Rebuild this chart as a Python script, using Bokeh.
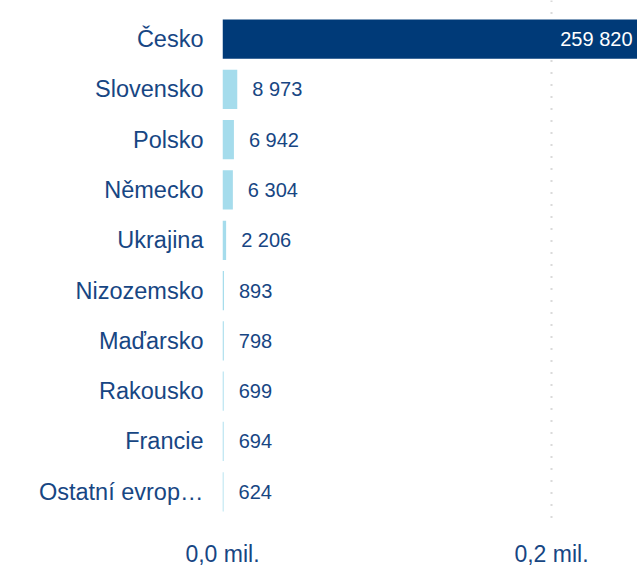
from bokeh.plotting import figure
from bokeh.models import Range1d, FixedTicker, ColumnDataSource
from bokeh.core.properties import value
from bokeh.embed import file_html
from bokeh.resources import INLINE

# ---- data ----
countries = ["Česko", "Slovensko", "Polsko", "Německo", "Ukrajina",
             "Nizozemsko", "Maďarsko", "Rakousko", "Francie", "Ostatní evrop…"]
visitors = [259820, 8973, 6942, 6304, 2206, 893, 798, 699, 694, 624]
tick_values = [0, 200000]
tick_labels = ["0,0 mil.", "0,2 mil."]

FONT = "Liberation Sans"
TEXT_COLOR = "#174683"
DARK = "#003a78"
LIGHT = "#a5dcec"

x_end = 252300
idx = list(range(len(countries)))

p = figure(width=637, height=569, output_backend="svg", toolbar_location=None,
           x_range=Range1d(0, x_end), y_range=Range1d(9.73, -0.767),
           min_border_left=222, min_border_right=0, min_border_top=0, min_border_bottom=0)
p.outline_line_color = None
p.background_fill_color = "white"
p.border_fill_color = "white"

colors = [DARK if i == 0 else LIGHT for i in idx]
src = ColumnDataSource(dict(y=idx, v=visitors, c=colors,
                            lab=[f"{v:,}".replace(",", " ") for v in visitors]))
p.hbar(y="y", left=0, right="v", height=0.78, fill_color="c", line_color=None, source=src)

inside = [i for i in idx if visitors[i] > 0.5 * x_end]
outside = [i for i in idx if i not in inside]
in_src = ColumnDataSource(dict(x=[min(visitors[i], x_end) for i in inside],
                               y=[i for i in inside],
                               t=[src.data["lab"][i] for i in inside]))
out_src = ColumnDataSource(dict(x=[visitors[i] for i in outside],
                                y=[i for i in outside],
                                t=[src.data["lab"][i] for i in outside]))
p.text(x="x", y="y", text="t", source=in_src, text_align="right", text_baseline="middle",
       x_offset=-5, text_color="white", text_font=value(FONT), text_font_size="20px")
p.text(x="x", y="y", text="t", source=out_src, text_align="left", text_baseline="middle",
       x_offset=15, text_color=TEXT_COLOR, text_font=value(FONT), text_font_size="20px")

# axes
p.yaxis.ticker = FixedTicker(ticks=idx)
p.yaxis.major_label_overrides = {i: countries[i] for i in idx}
p.yaxis.axis_line_color = None
p.yaxis.major_tick_line_color = None
p.yaxis.minor_tick_line_color = None
p.yaxis.major_label_standoff = 13
p.yaxis.major_label_text_font = FONT
p.yaxis.major_label_text_font_size = "23.5px"
p.yaxis.major_label_text_color = TEXT_COLOR

p.xaxis.ticker = FixedTicker(ticks=tick_values)
p.xaxis.major_label_overrides = {v: l for v, l in zip(tick_values, tick_labels)}
p.xaxis.axis_line_color = None
p.xaxis.major_tick_line_color = None
p.xaxis.minor_tick_line_color = None
p.xaxis.major_label_standoff = 6
p.xaxis.major_label_text_font = FONT
p.xaxis.major_label_text_font_size = "23px"
p.xaxis.major_label_text_color = TEXT_COLOR

p.ygrid.grid_line_color = None
p.xgrid.ticker = FixedTicker(ticks=tick_values)
p.xgrid.grid_line_color = "#b5b5b5"
p.xgrid.grid_line_width = 2
p.xgrid.grid_line_dash = "1 11"

open("out.html", "w").write(file_html(p, INLINE))
